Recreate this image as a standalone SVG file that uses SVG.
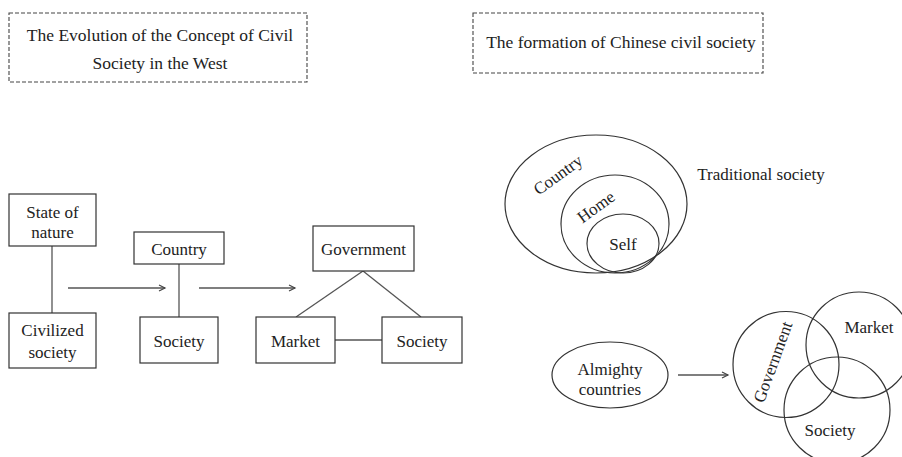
<svg xmlns="http://www.w3.org/2000/svg" width="902" height="457" viewBox="0 0 902 457">
<style>
text{font-family:"Liberation Serif","Times New Roman",serif;font-size:17px;fill:#222;text-anchor:middle;dominant-baseline:central}
.tt{font-size:17.5px}
.box{fill:#fff;stroke:#333;stroke-width:1.2}
.title{fill:#fff;stroke:#444;stroke-width:1.1;stroke-dasharray:4 2}
.ln{fill:none;stroke:#555;stroke-width:1.3}
.shape{fill:none;stroke:#333;stroke-width:1.2}
</style>
<defs>
<marker id="arr" markerWidth="10" markerHeight="10" refX="8" refY="4" orient="auto" markerUnits="userSpaceOnUse">
<polyline points="2,1 8,4 2,7" fill="none" stroke="#444" stroke-width="1.2"/>
</marker>
</defs>
<rect width="902" height="457" fill="#fff"/>
<g id="title-west">
<rect class="title" x="9" y="13" width="298" height="69"/>
<text class="tt" x="160" y="35">The Evolution of the Concept of Civil</text>
<text class="tt" x="160" y="63">Society in the West</text>
</g>
<g id="title-china">
<rect class="title" x="473" y="13" width="290" height="60"/>
<text class="tt" x="621" y="42">The formation of Chinese civil society</text>
</g>
<g id="connectors">
<line class="ln" x1="52" y1="246" x2="52" y2="313"/>
<line class="ln" x1="68" y1="288" x2="165" y2="288" marker-end="url(#arr)"/>
<line class="ln" x1="179" y1="264" x2="179" y2="317"/>
<line class="ln" x1="199" y1="288" x2="295" y2="288" marker-end="url(#arr)"/>
<line class="ln" x1="363" y1="271" x2="296" y2="317"/>
<line class="ln" x1="363" y1="271" x2="421" y2="317"/>
<line class="ln" x1="335" y1="340" x2="382" y2="340"/>
<line class="ln" x1="678" y1="375" x2="728" y2="375" marker-end="url(#arr)"/>
</g>
<g id="state-of-nature">
<rect class="box" x="9" y="194" width="87" height="52"/>
<text x="52.5" y="212">State of</text>
<text x="52.5" y="232">nature</text>
</g>
<g id="civilized-society">
<rect class="box" x="9" y="313" width="87" height="55"/>
<text x="52.5" y="330">Civilized</text>
<text x="52.5" y="352">society</text>
</g>
<g id="country">
<rect class="box" x="134" y="232" width="90" height="32"/>
<text x="179" y="249">Country</text>
</g>
<g id="society-1">
<rect class="box" x="140" y="317" width="78" height="46"/>
<text x="179" y="341">Society</text>
</g>
<g id="government">
<rect class="box" x="313" y="226" width="101" height="45"/>
<text x="363.5" y="249">Government</text>
</g>
<g id="market">
<rect class="box" x="256" y="317" width="79" height="46"/>
<text x="295.5" y="341">Market</text>
</g>
<g id="society-2">
<rect class="box" x="382" y="317" width="80" height="46"/>
<text x="422" y="341">Society</text>
</g>
<g id="traditional">
<ellipse class="shape" cx="596" cy="204" rx="91" ry="69"/>
<ellipse class="shape" cx="615" cy="224" rx="54" ry="49"/>
<ellipse class="shape" cx="623" cy="243.5" rx="36" ry="29.5"/>
<text transform="translate(558,175) rotate(-36)">Country</text>
<text transform="translate(596,207) rotate(-36)">Home</text>
<text x="623" y="244">Self</text>
<text x="761" y="174">Traditional society</text>
</g>
<g id="almighty">
<ellipse class="shape" cx="610" cy="375" rx="58" ry="33"/>
<text x="610" y="369">Almighty</text>
<text x="610" y="389">countries</text>
</g>
<g id="venn">
<circle class="shape" cx="786" cy="364.5" r="53"/>
<circle class="shape" cx="859" cy="345" r="53"/>
<circle class="shape" cx="837" cy="410" r="53"/>
<text transform="translate(773,362) rotate(-70)">Government</text>
<text x="869" y="327">Market</text>
<text x="830" y="430">Society</text>
</g>
</svg>
